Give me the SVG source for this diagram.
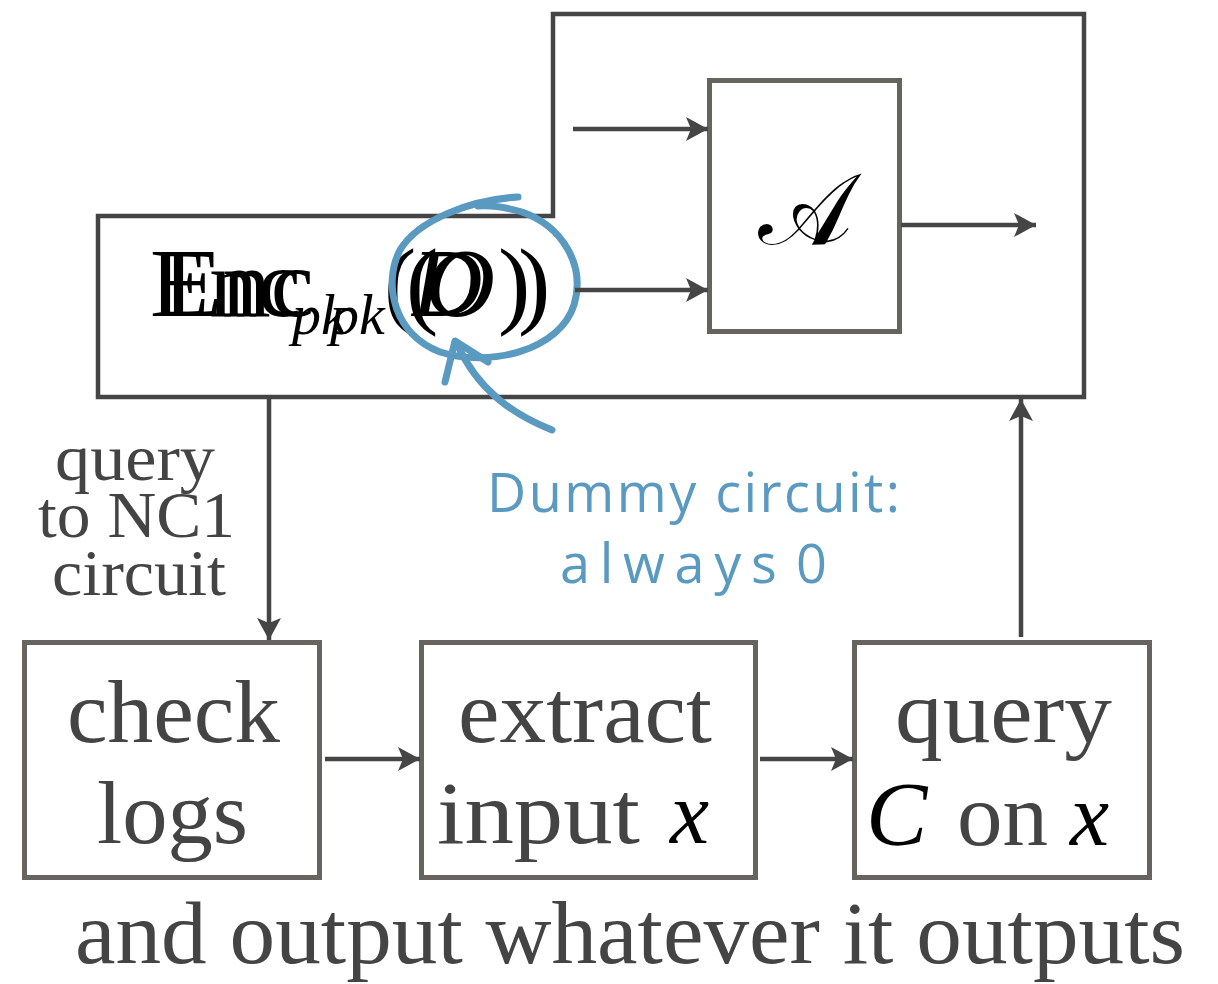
<svg xmlns="http://www.w3.org/2000/svg" width="1218" height="984" viewBox="0 0 1218 984">
<style>
.box{fill:#fff;stroke:#67635f;stroke-width:5}
.frame{fill:#fff;stroke:#454545;stroke-width:4.5}
.edge{fill:none;stroke:#454545;stroke-width:4.5}
.lbl{font-family:"Liberation Serif",serif;fill:#444}
.math{font-family:"Liberation Serif",serif;fill:#000;font-style:italic}
.enc{font-family:"Liberation Serif",serif;fill:#000;font-size:97px}
.sub{font-style:italic;font-size:58px}
.it{font-style:italic}
.blue{fill:none;stroke:#5b9ac0;stroke-width:7;stroke-linecap:round;stroke-linejoin:round}
.hand{font-family:"Open Sans","Noto Sans",sans-serif;fill:#5b9ac0;font-size:54px}
</style>
<defs>
<marker id="ah" viewBox="0 0 22 24" refX="22" refY="12" markerWidth="22" markerHeight="24" markerUnits="userSpaceOnUse" orient="auto">
<path d="M0,0 L22,12 L0,24 L5,12 z" fill="#454545"/>
</marker>
</defs>
<rect width="1218" height="984" fill="#fff"/>

<g id="outer">
<path class="frame" d="M98,216 L553,216 L553,14 L1084,14 L1084,397 L98,397 Z"/>
<g id="enc-label">
<text class="enc" y="316"><tspan x="150">Enc</tspan><tspan class="sub" x="292" y="334">pk</tspan><tspan x="384" y="316">(</tspan><tspan class="it" x="412">D</tspan><tspan x="498">)</tspan></text>
<text class="enc" y="316"><tspan x="163">Enc</tspan><tspan class="sub" x="330" y="334">pk</tspan><tspan x="406" y="316">(</tspan><tspan class="it" x="425">O</tspan><tspan x="518">)</tspan></text>
</g>
</g>

<g id="adversary">
<rect class="box" x="709.5" y="80.5" width="190" height="251"/>
<text x="805" y="244" font-size="100" text-anchor="middle" style="font-family:'DejaVu Serif','DejaVu Sans',serif;fill:#000">𝒜</text>
</g>

<g id="check-logs">
<rect class="box" x="24.5" y="642.5" width="295" height="235"/>
<text class="lbl" x="67" y="742" font-size="88" textLength="213" lengthAdjust="spacingAndGlyphs">check</text>
<text class="lbl" x="97" y="843" font-size="88" textLength="151" lengthAdjust="spacingAndGlyphs">logs</text>
</g>

<g id="extract-input">
<rect class="box" x="421.5" y="642.5" width="334" height="235"/>
<text class="lbl" x="458" y="742" font-size="88" textLength="254" lengthAdjust="spacingAndGlyphs">extract</text>
<text class="lbl" x="437" y="843" font-size="88" textLength="203" lengthAdjust="spacingAndGlyphs">input</text>
<text class="math" x="670" y="843" font-size="88">x</text>
</g>

<g id="query-c">
<rect class="box" x="854.5" y="642.5" width="295" height="235"/>
<text class="lbl" x="895" y="742" font-size="88" textLength="217" lengthAdjust="spacingAndGlyphs">query</text>
<text class="math" x="866" y="845" font-size="92">C</text>
<text class="lbl" x="957" y="845" font-size="88" textLength="91" lengthAdjust="spacingAndGlyphs">on</text>
<text class="math" x="1070" y="845" font-size="88">x</text>
</g>

<g id="query-label">
<text class="lbl" font-size="66">
<tspan x="55" y="480" textLength="160" lengthAdjust="spacingAndGlyphs">query</tspan>
<tspan x="38" y="537" textLength="197" lengthAdjust="spacingAndGlyphs">to NC1</tspan>
<tspan x="52" y="595" textLength="174" lengthAdjust="spacingAndGlyphs">circuit</tspan>
</text>
</g>

<g id="footer">
<text class="lbl" x="75" y="963" font-size="88" textLength="1110" lengthAdjust="spacingAndGlyphs">and output whatever it outputs</text>
</g>

<g id="dummy-note">
<path class="blue" d="M518,197 C470,200 418,220 400,250 C382,285 395,335 440,352 C490,368 560,350 574,305 C586,265 562,226 522,212 C505,207 492,205 478,206"/>
<path class="blue" d="M552,430 C512,414 478,390 457,344"/>
<path class="blue" d="M445,382 L455,341 L488,362"/>
<text class="hand" x="487" y="512" textLength="413" lengthAdjust="spacing">Dummy circuit:</text>
<text class="hand" x="560" y="583" textLength="267" lengthAdjust="spacing" word-spacing="-14">always 0</text>
</g>

<g id="connectors">
<line class="edge" x1="573" y1="129" x2="708" y2="129" marker-end="url(#ah)"/>
<line class="edge" x1="575" y1="290" x2="708" y2="290" marker-end="url(#ah)"/>
<line class="edge" x1="901" y1="225" x2="1036" y2="225" marker-end="url(#ah)"/>
<line class="edge" x1="269" y1="399" x2="269" y2="640" marker-end="url(#ah)"/>
<line class="edge" x1="325" y1="759" x2="420" y2="759" marker-end="url(#ah)"/>
<line class="edge" x1="760" y1="759" x2="853" y2="759" marker-end="url(#ah)"/>
<line class="edge" x1="1021" y1="637" x2="1021" y2="399" marker-end="url(#ah)"/>
</g>
</svg>
